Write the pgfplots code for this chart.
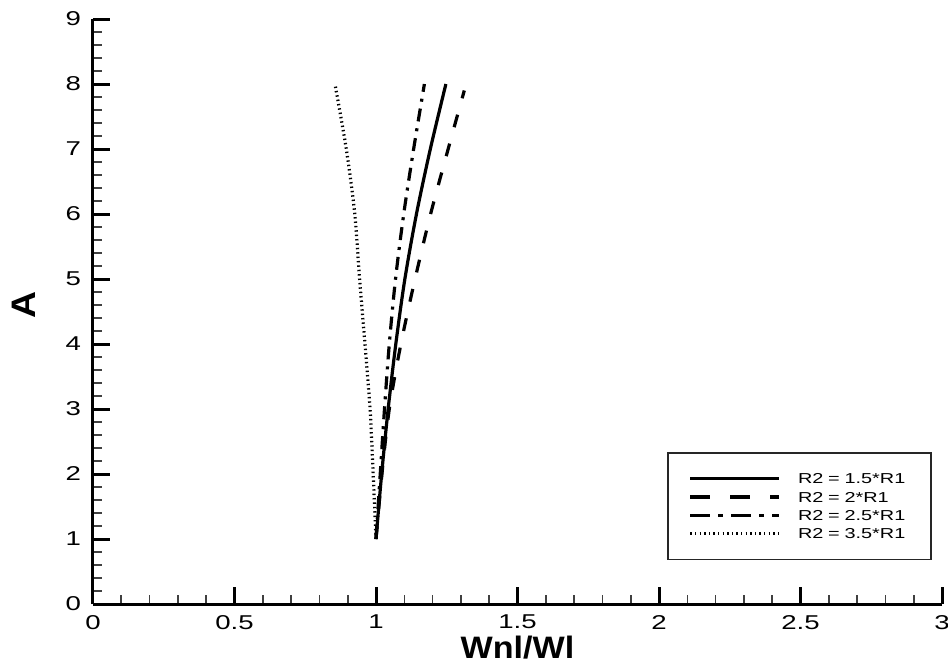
\documentclass[border=0pt]{standalone}
\usepackage{fontspec}
\setmainfont{Liberation Sans}
% wide Helvetica-like faces for ticks, legend and axis titles
\newfontfamily\tickfont[FakeStretch=1.38]{Liberation Sans}
\newfontfamily\legfont[FakeStretch=1.38]{Liberation Sans}
\newfontfamily\labfont[FakeStretch=1.1]{Liberation Sans}
\usepackage{pgfplots}
\usepackage{pgfplotstable}
\pgfplotsset{compat=1.18}

% Frequency ratio Wnl/Wl against amplitude A for four radius ratios
\pgfplotstableread{
A    w
1    1.000
2    1.020
3    1.043
4    1.070
5    1.102
6    1.143
7    1.192
8    1.247
}\rOneFive
\pgfplotstableread{
A    w
1    1.000
2    1.021
3    1.047
4    1.088
5    1.138
6    1.193
7    1.255
7.9  1.312
}\rTwo
\pgfplotstableread{
A    w
1    1.000
2    1.015
3    1.030
4    1.047
5    1.069
6    1.098
7    1.133
8    1.171
}\rTwoFive
\pgfplotstableread{
A    w
1    1.000
2    0.990
3    0.979
4    0.961
5    0.942
6    0.925
7    0.895
8    0.855
}\rThreeFive

\begin{document}
\begin{tikzpicture}
\begin{axis}[
  scale only axis, width=424.5pt, height=292.5pt,
  xmin=0, xmax=3, ymin=0, ymax=9,
  axis lines*=left,
  axis line style={line width=1.5pt},
  xtick={0,0.5,...,3}, ytick={0,1,...,9},
  minor x tick num=4, minor y tick num=4,
  tick align=inside,
  major tick length=8.5pt, minor tick length=4.5pt,
  every major tick/.append style={line width=1.5pt, black},
  every minor tick/.append style={line width=0.8pt, black!75},
  /pgf/number format/assume math mode=true,
  every tick label/.append style={font=\tickfont\fontsize{10}{12}\selectfont},
  xticklabel style={yshift=-2pt},
  yticklabel style={xshift=-2.5pt},
  xlabel={Wnl/Wl}, ylabel={A},
  every axis x label/.style={at={(axis description cs:0.5,-0.075)}, anchor=center,
    font=\labfont\bfseries\fontsize{15.5}{18}\selectfont},
  every axis y label/.style={at={(axis description cs:-0.082,0.511)}, anchor=center, rotate=90,
    font=\labfont\bfseries\fontsize{17}{20}\selectfont},
  legend style={
    at={(axis description cs:0.988,0.26)}, anchor=north east,
    draw=black!85, line width=0.8pt,
    inner xsep=10.5pt, inner ysep=10.3pt,
    column sep=8.5pt, row sep=4pt,
    nodes={inner sep=0pt},
    font=\legfont\fontsize{7.2}{9}\selectfont,
  },
  legend cell align=left,
  legend image code/.code={\draw[#1] (0pt,0pt) -- (44.5pt,0pt);},
]
\coordinate (ll) at (rel axis cs:0,0);
\coordinate (ur) at (rel axis cs:1,1);

\addplot[forget plot, smooth, black, line width=1.6pt] table[x=w, y=A] {\rOneFive};
\addplot[forget plot, smooth, black, line width=1.6pt, dash pattern=on 6.5pt off 8.5pt] table[x=w, y=A] {\rTwo};
\addplot[forget plot, smooth, black, line width=1.6pt, dash pattern=on 6.5pt off 3.5pt on 1.5pt off 3.5pt] table[x=w, y=A] {\rTwoFive};
\addplot[forget plot, smooth, black, line width=1.6pt, line cap=butt, dash pattern=on 0.7pt off 1.5pt] table[x=w, y=A] {\rThreeFive};

\addlegendimage{black, line width=1.6pt}
\addlegendentry[text width=56pt, text height=5.2pt, text depth=0pt]{R2 = 1.5*R1}
\addlegendimage{black, line width=1.6pt, dash pattern=on 10pt off 10pt}
\addlegendentry[text width=56pt, text height=5.2pt, text depth=0pt]{R2 = 2*R1}
\addlegendimage{black, line width=1.6pt, dash pattern=on 10pt off 4pt on 2.5pt off 4pt}
\addlegendentry[text width=56pt, text height=5.2pt, text depth=0pt]{R2 = 2.5*R1}
\addlegendimage{black, line width=1.5pt, line cap=butt, dash pattern=on 0.7pt off 1.6pt}
\addlegendentry[text width=56pt, text height=5.2pt, text depth=0pt]{R2 = 3.5*R1}
\end{axis}
\pgfresetboundingbox
\path[use as bounding box] ([shift={(-46.5pt,-30pt)}]ll) rectangle ([shift={(3pt,9.5pt)}]ur);
\end{tikzpicture}
\end{document}
